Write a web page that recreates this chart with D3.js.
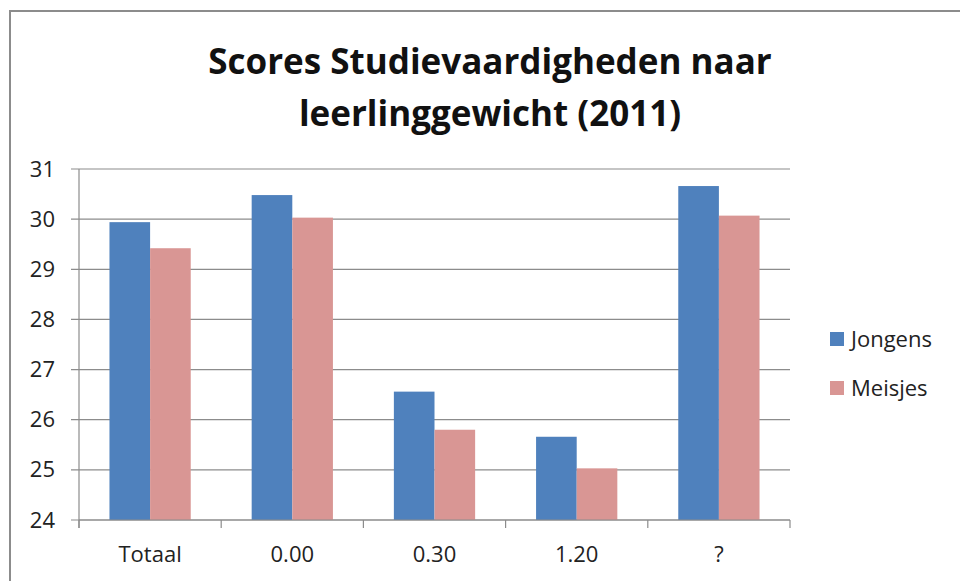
<!DOCTYPE html>
<html>
<head>
<meta charset="utf-8">
<script src="https://cdn.jsdelivr.net/npm/d3@7"></script>
<style>
  body { margin: 0; background: #fff; }
  svg { display: block; font-family: "Open Sans", "Noto Sans", sans-serif; }
</style>
</head>
<body>
<svg width="960" height="581"></svg>
<script>
const categories = ["Totaal", "0.00", "0.30", "1.20", "?"];
const seriesNames = ["Jongens", "Meisjes"];
const jongens = [29.94, 30.48, 26.56, 25.66, 30.66];
const meisjes = [29.42, 30.03, 25.80, 25.03, 30.07];
const yTicks = [24, 25, 26, 27, 28, 29, 30, 31];

const colors = ["#4f81bd", "#d99694"];
const fontFamily = '"Open Sans", "Noto Sans", sans-serif';

const svg = d3.select("svg");

// outer chart border (only top and left visible in frame)
svg.append("rect")
    .attr("x", 10).attr("y", 11)
    .attr("width", 1000).attr("height", 700)
    .attr("fill", "none")
    .attr("stroke", "#8c8c8c")
    .attr("stroke-width", 2);

const margin = {left: 79, right: 170, top: 169, bottom: 61};
const width = 960 - margin.left - margin.right;
const height = 581 - margin.top - margin.bottom;

const g = svg.append("g")
    .attr("transform", "translate(" + margin.left + "," + margin.top + ")");

const x = d3.scaleBand().domain(categories).range([0, width]).padding(0);
const x1 = d3.scaleBand().domain(seriesNames)
    .range([0, x.bandwidth()])
    .paddingInner(0)
    .paddingOuter(0.75);
const y = d3.scaleLinear().domain([24, 31]).range([height, 0]);

// gridlines
g.selectAll("line.grid")
    .data(yTicks)
    .enter().append("line")
    .attr("class", "grid")
    .attr("x1", -8).attr("x2", width)
    .attr("y1", d => y(d)).attr("y2", d => y(d))
    .attr("stroke", "#8c8c8c")
    .attr("stroke-width", 1.2);

// y axis
const yAxis = g.append("g")
    .call(d3.axisLeft(y).tickValues(yTicks).tickSize(0).tickPadding(24).tickFormat(d3.format("d")))
    .attr("font-family", fontFamily);
yAxis.select(".domain").remove();
yAxis.selectAll("text").attr("font-size", 22).attr("fill", "#222");
g.append("line")
    .attr("x1", 0).attr("x2", 0)
    .attr("y1", 0).attr("y2", height + 8)
    .attr("stroke", "#8c8c8c").attr("stroke-width", 1.2);

// bars
const series = [jongens, meisjes];
const groups = g.selectAll("g.cat")
    .data(categories)
    .enter().append("g")
    .attr("class", "cat")
    .attr("transform", d => "translate(" + x(d) + ",0)");

groups.selectAll("rect")
    .data((d, i) => seriesNames.map((s, j) => ({s: s, v: series[j][i], j: j})))
    .enter().append("rect")
    .attr("x", d => x1(d.s))
    .attr("width", x1.bandwidth())
    .attr("y", d => y(d.v))
    .attr("height", d => y(24) - y(d.v))
    .attr("fill", d => colors[d.j]);

// x axis
const xAxis = g.append("g")
    .attr("transform", "translate(0," + height + ")")
    .call(d3.axisBottom(x).tickSize(0).tickPadding(26))
    .attr("font-family", fontFamily);
xAxis.select(".domain").remove();
xAxis.selectAll("text").attr("font-size", 22).attr("fill", "#222");
g.append("line")
    .attr("x1", 0).attr("x2", width)
    .attr("y1", height).attr("y2", height)
    .attr("stroke", "#8c8c8c").attr("stroke-width", 1.2);
g.selectAll("line.xtick")
    .data(d3.range(categories.length + 1))
    .enter().append("line")
    .attr("class", "xtick")
    .attr("x1", i => i * x.step()).attr("x2", i => i * x.step())
    .attr("y1", height).attr("y2", height + 8)
    .attr("stroke", "#8c8c8c").attr("stroke-width", 1.2);

// title
const title = svg.append("text")
    .attr("x", 490)
    .attr("text-anchor", "middle")
    .attr("font-size", 35)
    .attr("font-weight", "bold")
    .attr("fill", "#111");
title.append("tspan").attr("x", 490).attr("y", 74).text("Scores Studievaardigheden naar");
title.append("tspan").attr("x", 490).attr("y", 126).text("leerlinggewicht (2011)");

// legend
const legend = svg.append("g")
    .attr("transform", "translate(830,332)");
const items = legend.selectAll("g")
    .data(seriesNames)
    .enter().append("g")
    .attr("transform", (d, i) => "translate(0," + i * 49 + ")");
items.append("rect")
    .attr("width", 14).attr("height", 14)
    .attr("fill", (d, i) => colors[i]);
items.append("text")
    .attr("x", 21).attr("y", 7)
    .attr("dy", "0.35em")
    .attr("font-size", 22)
    .attr("fill", "#222")
    .text(d => d);
</script>
</body>
</html>
